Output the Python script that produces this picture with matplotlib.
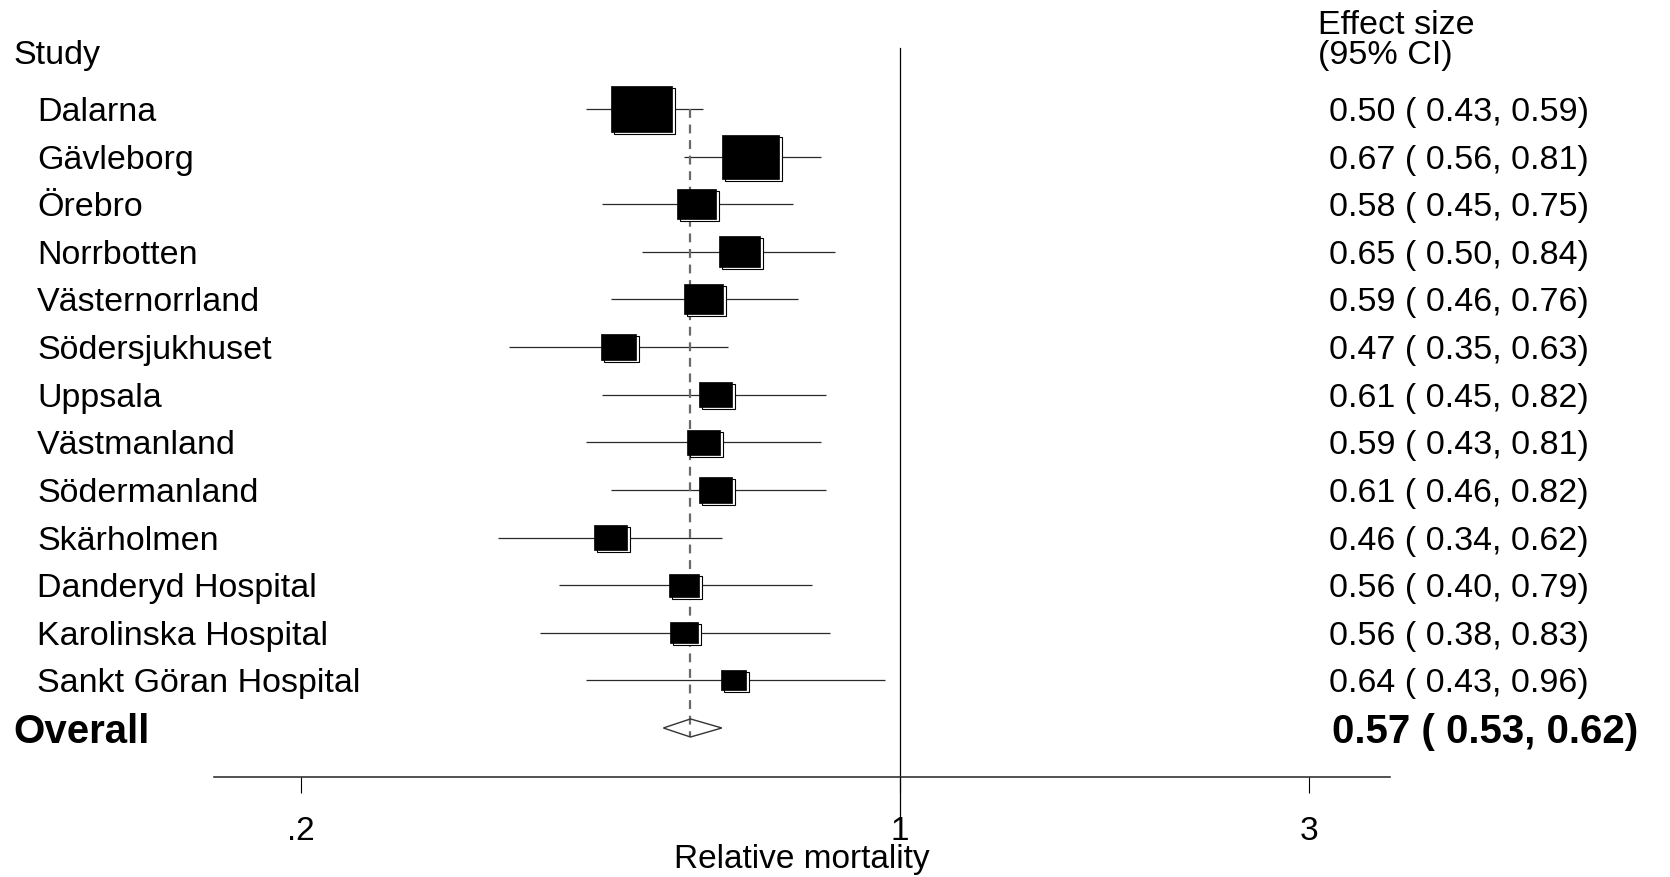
import numpy as np
import matplotlib
matplotlib.use("Agg")
import matplotlib.pyplot as plt
from matplotlib import transforms
from matplotlib.patches import Rectangle, Polygon

studies = ["Dalarna", "Gävleborg", "Örebro", "Norrbotten", "Västernorrland",
           "Södersjukhuset", "Uppsala", "Västmanland", "Södermanland",
           "Skärholmen", "Danderyd Hospital", "Karolinska Hospital",
           "Sankt Göran Hospital"]
es = [0.50, 0.67, 0.58, 0.65, 0.59, 0.47, 0.61, 0.59, 0.61, 0.46, 0.56, 0.56, 0.64]
ci_lo = [0.43, 0.56, 0.45, 0.50, 0.46, 0.35, 0.45, 0.43, 0.46, 0.34, 0.40, 0.38, 0.43]
ci_hi = [0.59, 0.81, 0.75, 0.84, 0.76, 0.63, 0.82, 0.81, 0.82, 0.62, 0.79, 0.83, 0.96]
weights = [19.1, 16.6, 7.8, 8.4, 7.8, 6.2, 5.6, 5.6, 5.5, 5.5, 4.6, 3.9, 3.4]
overall_es, overall_lo, overall_hi = 0.57, 0.53, 0.62
xticks = [0.2, 1, 3]
xticklabels = [".2", "1", "3"]

plt.rcParams['font.family'] = ['Liberation Sans', 'DejaVu Sans']
FS = 24.5
FS_BOLD = 29

fig = plt.figure(figsize=(16.7, 8.77), dpi=100)
ax = fig.add_axes([0.1281, 0.114, 0.7042, 0.8312])
ax.set_xscale('log')
ax.set_xlim(0.1585, 3.73)
ax.set_ylim(14.03, -1.28)

for s in ['top', 'right', 'left']:
    ax.spines[s].set_visible(False)
ax.spines['bottom'].set_linewidth(1.1)
ax.spines['bottom'].set_color('#222222')
ax.set_yticks([])
ax.set_xticks(xticks)
ax.set_xticklabels(xticklabels)
ax.xaxis.set_minor_locator(matplotlib.ticker.NullLocator())
ax.tick_params(axis='x', direction='out', length=11.5, width=0.8,
               pad=16.5, labelsize=24)
ax.set_xlabel("Relative mortality", fontsize=24, labelpad=-2)

# null line
ax.axvline(1, ymin=-0.058, ymax=1, color='black', lw=0.9, clip_on=False)

rows = np.arange(len(studies))
n = len(studies)

# overall dashed line
ax.vlines(overall_es, 0, n + 0.19, colors='#6a6a6a', lw=1.6,
          linestyles=(0, (4, 3)), zorder=2)

# confidence intervals
ax.hlines(rows, ci_lo, ci_hi, colors='#2a2a2a', lw=0.9, zorder=1)

# weighted boxes with shadow outline
shadow = transforms.offset_copy(ax.transData, fig=fig, x=3, y=-2, units='dots')
for y, e, w in zip(rows, es, weights):
    bw = 0.0375 * np.sqrt(w)
    bh = 0.2258 * np.sqrt(w)
    x0 = e * np.exp(-bw / 2)
    x1 = e * np.exp(bw / 2)
    ax.add_patch(Rectangle((x0, y - bh / 2), x1 - x0, bh, transform=shadow,
                           facecolor='white', edgecolor='black', lw=0.8, zorder=3))
    ax.add_patch(Rectangle((x0, y - bh / 2), x1 - x0, bh,
                           facecolor='black', edgecolor='black', lw=0.5, zorder=4))

# overall diamond
ax.add_patch(Polygon([(overall_lo, n), (overall_es, n - 0.19),
                      (overall_hi, n), (overall_es, n + 0.19)],
                     closed=True, facecolor='none', edgecolor='#333333',
                     lw=1.0, zorder=5))

# text columns
blend = transforms.blended_transform_factory(fig.transFigure, ax.transData)
ax.text(0.0078, -1.19, "Study", transform=blend, fontsize=FS,
        va='center_baseline', ha='left')
ax.text(0.789, -1.82, "Effect size", transform=blend, fontsize=FS,
        va='center_baseline', ha='left')
ax.text(0.789, -1.19, "(95% CI)", transform=blend, fontsize=FS,
        va='center_baseline', ha='left')
for y, name, e, l, h in zip(rows, studies, es, ci_lo, ci_hi):
    ax.text(0.0222, y, name, transform=blend, fontsize=FS,
            va='center_baseline', ha='left')
    ax.text(0.7958, y, f"{e:.2f} ( {l:.2f}, {h:.2f})", transform=blend,
            fontsize=FS, va='center_baseline', ha='left')
ax.text(0.0078, n, "Overall", transform=blend, fontsize=FS_BOLD,
        fontweight='bold', va='center_baseline', ha='left')
ax.text(0.7974, n, f"{overall_es:.2f} ( {overall_lo:.2f}, {overall_hi:.2f})",
        transform=blend, fontsize=FS_BOLD, fontweight='bold',
        va='center_baseline', ha='left')

fig.savefig("out.png", dpi=100)
